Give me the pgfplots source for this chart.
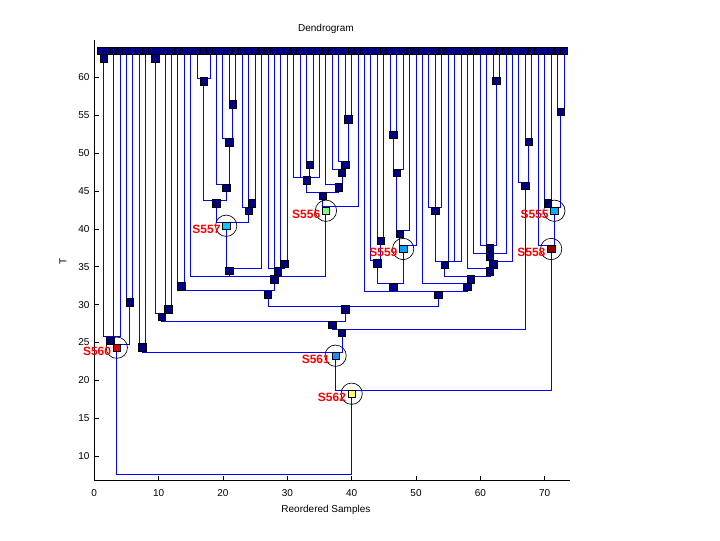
\documentclass[border=0pt]{standalone}
\usepackage{pgfplots}
\pgfplotsset{compat=1.18}
\usepackage{fontspec}
\setmainfont{Liberation Sans}
\definecolor{navyn}{rgb}{0,0,0.5}
\definecolor{treeblue}{rgb}{0,0,1}
\definecolor{cS557}{rgb}{0,0.78,1}
\definecolor{cS556}{rgb}{0.5,1,0.5}
\definecolor{cS559}{rgb}{0,0.63,1}
\definecolor{cS555}{rgb}{0,0.7,1}
\definecolor{cS561}{rgb}{0.1,0.55,1}
\definecolor{cS562}{rgb}{1,1,0.4}
\definecolor{cS558}{rgb}{0.55,0,0}
\definecolor{cS560}{rgb}{0.88,0,0}
\begin{document}
\begin{tikzpicture}[font=\fontsize{7.5}{9}\selectfont]
\begin{axis}[
  x=4.826pt, y=5.6775pt,
  xmin=0, xmax=74, ymin=6.76, ymax=64.89,
  axis x line*=bottom, axis y line*=left,
  axis line style={-, black, line width=0.5pt},
  tick align=inside,
  xtick={0,10,...,70}, ytick={10,15,...,60},
  major tick length=3.75pt,
  every tick/.style={black, line width=0.5pt},
  /pgf/number format/assume math mode=true,
  xticklabel style={yshift=-3pt},
  clip=false,
  unbounded coords=jump,
  xlabel={Reordered Samples},
  xlabel style={at={(0.4865,-0.067)}, anchor=center, inner sep=0pt},
  ylabel={T},
  ylabel style={at={(-0.0657,0.497)}, anchor=center, rotate=0, inner sep=0pt},
]
% tree lines
\addplot[draw=treeblue, color=treeblue, line width=0.75pt, mark=none] coordinates {
(1,63.55)(1,62.97)(2,62.97)(2,63.55)(nan,nan)
(9,63.55)(9,62.97)(10,62.97)(10,63.55)(nan,nan)
(16,63.55)(16,59.89)(18,59.89)(18,63.55)(nan,nan)
(21,63.55)(21,56.90)(22,56.90)(22,63.55)(nan,nan)
(20,63.55)(20,51.88)(21.5,51.88)(21.5,56.46)(nan,nan)
(19,63.55)(19,45.89)(21,45.89)(21,51.44)(nan,nan)
(17,59.50)(17,43.82)(20.5,43.82)(20.5,45.44)(nan,nan)
(24,63.55)(24,43.82)(25,43.82)(25,63.55)(nan,nan)
(23,63.55)(23,42.80)(24.5,42.80)(24.5,43.38)(nan,nan)
(19,43.38)(19,40.87)(24,40.87)(24,42.36)(nan,nan)
(20.5,40.42)(20.5,34.80)(26,34.80)(26,63.55)(nan,nan)
(29,63.55)(29,35.80)(30,35.80)(30,63.55)(nan,nan)
(27,63.55)(27,34.80)(29.5,34.80)(29.5,35.36)(nan,nan)
(28,63.55)(28,34.80)(nan,nan)
(39,63.55)(39,54.82)(40,54.82)(40,63.55)(nan,nan)
(38,63.55)(38,48.88)(39.5,48.88)(39.5,54.48)(nan,nan)
(37,63.55)(37,47.87)(39,47.87)(39,48.48)(nan,nan)
(36,63.55)(36,45.89)(38.5,45.89)(38.5,47.42)(nan,nan)
(33,63.55)(33,48.88)(34,48.88)(34,63.55)(nan,nan)
(31,63.55)(31,46.82)(35,46.82)(35,63.55)(nan,nan)
(32,63.55)(32,46.82)(nan,nan)
(33.5,48.48)(33.5,46.82)(nan,nan)
(33,46.42)(33,44.83)(38,44.83)(38,45.50)(nan,nan)
(35.5,44.39)(35.5,42.93)(41,42.93)(41,63.55)(nan,nan)
(15,63.55)(15,33.78)(36,33.78)(36,42.40)(nan,nan)
(21,34.44)(21,33.78)(nan,nan)
(28.5,34.40)(28.5,33.78)(nan,nan)
(13,63.55)(13,32.85)(14,32.85)(14,63.55)(nan,nan)
(13.5,32.42)(13.5,31.84)(28,31.84)(28,33.34)(nan,nan)
(46,63.55)(46,52.84)(47,52.84)(47,63.55)(nan,nan)
(46.5,52.40)(46.5,47.87)(48,47.87)(48,63.55)(nan,nan)
(47,47.42)(47,39.76)(49,39.76)(49,63.55)(nan,nan)
(47.5,39.33)(47.5,37.83)(50,37.83)(50,63.55)(nan,nan)
(44,63.55)(44,38.89)(45,38.89)(45,63.55)(nan,nan)
(43,63.55)(43,35.89)(44.5,35.89)(44.5,38.44)(nan,nan)
(44,35.46)(44,32.81)(48,32.81)(48,37.35)(nan,nan)
(52,63.55)(52,42.85)(54,42.85)(54,63.55)(nan,nan)
(53,63.55)(53,42.85)(nan,nan)
(53,42.36)(53,35.72)(57,35.72)(57,63.55)(nan,nan)
(55,63.55)(55,35.72)(nan,nan)
(56,63.55)(56,35.72)(nan,nan)
(62,63.55)(62,59.93)(63,59.93)(63,63.55)(nan,nan)
(60,63.55)(60,37.87)(62.5,37.87)(62.5,59.54)(nan,nan)
(61,63.55)(61,37.87)(nan,nan)
(59,63.55)(59,36.78)(64,36.78)(64,63.55)(nan,nan)
(61.5,37.44)(61.5,36.78)(nan,nan)
(61.5,36.38)(61.5,35.72)(65,35.72)(65,63.55)(nan,nan)
(58,63.55)(58,34.80)(62,34.80)(62,35.32)(nan,nan)
(54.5,35.27)(54.5,33.78)(61.5,33.78)(61.5,34.40)(nan,nan)
(51,63.55)(51,32.81)(58.5,32.81)(58.5,33.34)(nan,nan)
(42,63.55)(42,31.71)(58,31.71)(58,32.36)(nan,nan)
(46.5,32.36)(46.5,31.71)(nan,nan)
(27,31.27)(27,29.81)(53.5,29.81)(53.5,31.27)(nan,nan)
(5,63.55)(5,30.74)(6,30.74)(6,63.55)(nan,nan)
(11,63.55)(11,29.81)(12,29.81)(12,63.55)(nan,nan)
(9.5,62.54)(9.5,28.85)(11.5,28.85)(11.5,29.38)(nan,nan)
(10.5,28.40)(10.5,27.83)(39,27.83)(39,29.38)(nan,nan)
(67,63.55)(67,51.92)(68,51.92)(68,63.55)(nan,nan)
(66,63.55)(66,46.10)(67.5,46.10)(67.5,51.48)(nan,nan)
(37,27.30)(37,26.74)(67,26.74)(67,45.67)(nan,nan)
(1.5,62.54)(1.5,25.76)(4,25.76)(4,63.55)(nan,nan)
(3,63.55)(3,25.76)(nan,nan)
(2.5,25.23)(2.5,24.79)(5.5,24.79)(5.5,30.30)(nan,nan)
(7,63.55)(7,24.79)(8,24.79)(8,63.55)(nan,nan)
(7.5,24.36)(7.5,23.70)(38.5,23.70)(38.5,26.25)(nan,nan)
(72,63.55)(72,55.93)(73,55.93)(73,63.55)(nan,nan)
(70,63.55)(70,43.82)(71,43.82)(71,63.55)(nan,nan)
(70.5,43.38)(70.5,42.85)(72.5,42.85)(72.5,55.48)(nan,nan)
(69,63.55)(69,37.87)(71.5,37.87)(71.5,42.40)(nan,nan)
(37.5,23.25)(37.5,18.72)(71,18.72)(71,37.35)(nan,nan)
(3.5,24.31)(3.5,7.62)(40,7.62)(40,18.23)
};
% leaf squares
\addplot[only marks, mark=square*, mark size=2.8pt, mark options={fill=navyn, draw=black, line width=0.5pt}] coordinates {
(1,63.55)(2,63.55)(3,63.55)(4,63.55)(5,63.55)(6,63.55)(7,63.55)(8,63.55)(9,63.55)(10,63.55)
(11,63.55)(12,63.55)(13,63.55)(14,63.55)(15,63.55)(16,63.55)(17,63.55)(18,63.55)(19,63.55)(20,63.55)
(21,63.55)(22,63.55)(23,63.55)(24,63.55)(25,63.55)(26,63.55)(27,63.55)(28,63.55)(29,63.55)(30,63.55)
(31,63.55)(32,63.55)(33,63.55)(34,63.55)(35,63.55)(36,63.55)(37,63.55)(38,63.55)(39,63.55)(40,63.55)
(41,63.55)(42,63.55)(43,63.55)(44,63.55)(45,63.55)(46,63.55)(47,63.55)(48,63.55)(49,63.55)(50,63.55)
(51,63.55)(52,63.55)(53,63.55)(54,63.55)(55,63.55)(56,63.55)(57,63.55)(58,63.55)(59,63.55)(60,63.55)
(61,63.55)(62,63.55)(63,63.55)(64,63.55)(65,63.55)(66,63.55)(67,63.55)(68,63.55)(69,63.55)(70,63.55)
(71,63.55)(72,63.55)(73,63.55)
};
% internal node squares
\addplot[only marks, mark=square*, mark size=2.8pt, mark options={fill=navyn, draw=black, line width=0.5pt}] coordinates {
(1.5,62.54)(9.5,62.54)(17,59.50)(21.5,56.46)(21,51.44)(20.5,45.44)(19,43.38)(24.5,43.38)(24,42.36)
(21,34.44)(29.5,35.36)(28.5,34.40)(39.5,54.48)(39,48.48)(38.5,47.42)(38,45.50)(33.5,48.48)(33,46.42)
(35.5,44.39)(28,33.34)(13.5,32.42)(27,31.27)(46.5,52.40)(47,47.42)(47.5,39.33)(44.5,38.44)(44,35.46)
(46.5,32.36)(53,42.36)(54.5,35.27)(62.5,59.54)(61.5,37.44)(61.5,36.38)(62,35.32)(61.5,34.40)(58.5,33.34)
(58,32.36)(53.5,31.27)(39,29.38)(5.5,30.30)(11.5,29.38)(10.5,28.40)(37,27.30)(67.5,51.48)(67,45.67)
(38.5,26.25)(2.5,25.23)(7.5,24.36)(72.5,55.48)(70.5,43.38)
};
% highlighted nodes
\addplot[only marks, mark=square*, mark size=2.8pt, mark options={fill=cS557, draw=black, line width=0.5pt}] coordinates {(20.5,40.42)};
\addplot[only marks, mark=square*, mark size=2.8pt, mark options={fill=cS556, draw=black, line width=0.5pt}] coordinates {(36,42.40)};
\addplot[only marks, mark=square*, mark size=2.8pt, mark options={fill=cS559, draw=black, line width=0.5pt}] coordinates {(48,37.35)};
\addplot[only marks, mark=square*, mark size=2.8pt, mark options={fill=cS555, draw=black, line width=0.5pt}] coordinates {(71.5,42.40)};
\addplot[only marks, mark=square*, mark size=2.8pt, mark options={fill=cS558, draw=black, line width=0.5pt}] coordinates {(71,37.35)};
\addplot[only marks, mark=square*, mark size=2.8pt, mark options={fill=cS560, draw=black, line width=0.5pt}] coordinates {(3.5,24.31)};
\addplot[only marks, mark=square*, mark size=2.8pt, mark options={fill=cS561, draw=black, line width=0.5pt}] coordinates {(37.5,23.25)};
\addplot[only marks, mark=square*, mark size=2.8pt, mark options={fill=cS562, draw=black, line width=0.5pt}] coordinates {(40,18.23)};
% circles
\addplot[only marks, mark=o, mark size=8pt, mark options={draw=black, line width=0.5pt}] coordinates {
(20.5,40.42)(36,42.40)(48,37.35)(71.5,42.40)(71,37.35)(3.5,24.31)(37.5,23.25)(40,18.23)
};
% labels
\addplot[only marks, mark=none, point meta=explicit symbolic,
  nodes near coords,
  nodes near coords style={anchor=east, text=red, font=\fontsize{9}{10}\selectfont\bfseries, inner sep=0pt, xshift=-4.1pt, yshift=-2.8pt}]
coordinates {
(20.5,40.42)[S557]
(36,42.40)[S556]
(48,37.35)[S559]
(71.5,42.40)[S555]
(71,37.35)[S558]
(3.5,24.31)[S560]
(37.5,23.25)[S561]
(40,18.23)[S562]
};
\node[anchor=center, inner sep=0pt] at (rel axis cs:0.4865,1.026) {Dendrogram};
\coordinate (bbsw) at (axis cs:-14.65,-1.10);
\coordinate (bbne) at (axis cs:97.24,70.24);
\end{axis}
\pgfresetboundingbox
\useasboundingbox (bbsw) rectangle (bbne);
\end{tikzpicture}
\end{document}
